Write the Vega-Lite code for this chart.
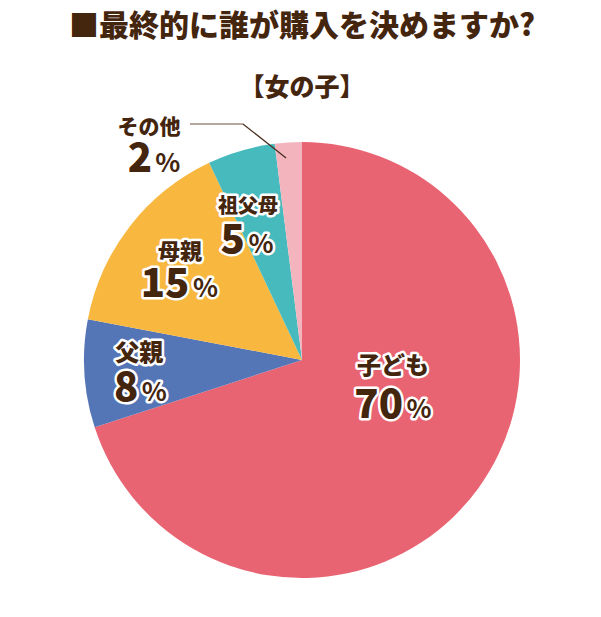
{
  "$schema": "https://vega.github.io/schema/vega-lite/v6.json",
  "width": 598,
  "height": 514,
  "autosize": "none",
  "padding": {"top": 103, "left": 3, "right": 0, "bottom": 0},
  "background": "white",
  "title": {
    "text": "■最終的に誰が購入を決めますか?",
    "subtitle": "【女の子】",
    "anchor": "middle",
    "font": "Noto Sans CJK JP",
    "fontSize": 30,
    "fontWeight": 900,
    "color": "#44250E",
    "subtitleFont": "Noto Sans CJK JP",
    "subtitleFontSize": 25,
    "subtitleFontWeight": 900,
    "subtitleColor": "#44250E",
    "subtitlePadding": 34,
    "offset": 2.5
  },
  "config": {"view": {"stroke": null}},
  "datasets": {
    "pie": [
      {"category": "子ども", "value": 70, "idx": 1},
      {"category": "父親", "value": 8, "idx": 2},
      {"category": "母親", "value": 15, "idx": 3},
      {"category": "祖父母", "value": 5, "idx": 4},
      {"category": "その他", "value": 2, "idx": 5}
    ],
    "leader": [
      {"lx": -0.514, "ly": 1.083, "step": 1, "seg": "h"},
      {"lx": -0.271, "ly": 1.083, "step": 2, "seg": "h"},
      {"lx": -0.271, "ly": 1.083, "step": 1, "seg": "d"},
      {"lx": -0.073, "ly": 0.927, "step": 2, "seg": "d"}
    ]
  },
  "layer": [
    {
      "data": {"name": "pie"},
      "mark": {"type": "arc", "outerRadius": 218},
      "encoding": {
        "theta": {"field": "value", "type": "quantitative", "stack": true},
        "order": {"field": "idx", "type": "quantitative"},
        "color": {
          "field": "category",
          "type": "nominal",
          "scale": {
            "domain": ["子ども", "父親", "母親", "祖父母", "その他"],
            "range": ["#E96473", "#5576B6", "#F8B840", "#47BABD", "#F3B4BE"]
          },
          "legend": null
        }
      }
    },
    {
      "data": {"name": "leader"},
      "transform": [{"filter": "datum.seg === 'h'"}],
      "mark": {"type": "line", "color": "#9C8A80", "strokeWidth": 1.5},
      "encoding": {
        "x": {"field": "lx", "type": "quantitative", "scale": {"domain": [-1.3716, 1.3716], "nice": false, "zero": false}, "axis": null},
        "y": {"field": "ly", "type": "quantitative", "scale": {"domain": [-1.1789, 1.1789], "nice": false, "zero": false}, "axis": null},
        "order": {"field": "step", "type": "quantitative"}
      }
    },
    {
      "data": {"name": "leader"},
      "transform": [{"filter": "datum.seg === 'd'"}],
      "mark": {"type": "line", "color": "#4A3020", "strokeWidth": 1.3},
      "encoding": {
        "x": {"field": "lx", "type": "quantitative", "axis": null},
        "y": {"field": "ly", "type": "quantitative", "axis": null},
        "order": {"field": "step", "type": "quantitative"}
      }
    },
    {
      "data": {"name": "pie"},
      "encoding": {
        "theta": {"field": "value", "type": "quantitative", "stack": true},
        "order": {"field": "idx", "type": "quantitative"}
      },
      "layer": [
        {"mark": {"type": "text", "radius": 102, "dx": 8.5, "dy": -53, "fontSize": 24, "font": "Noto Sans CJK JP", "fontWeight": 900, "fill": "white", "stroke": "white", "strokeWidth": 5, "strokeJoin": "round"},
         "encoding": {"text": {"condition": {"test": "datum.category === '子ども'", "field": "category"}, "value": ""}}},
        {"mark": {"type": "text", "radius": 102, "dx": 8.5, "dy": -53, "fontSize": 24, "font": "Noto Sans CJK JP", "fontWeight": 900, "fill": "#44250E"},
         "encoding": {"text": {"condition": {"test": "datum.category === '子ども'", "field": "category"}, "value": ""}}},
        {"mark": {"type": "text", "radius": 102, "dx": 18.5, "dy": -2, "align": "right", "baseline": "alphabetic", "fontSize": 40, "font": "Noto Sans CJK JP", "fontWeight": 900, "fill": "white", "stroke": "white", "strokeWidth": 5, "strokeJoin": "round"},
         "encoding": {"text": {"condition": {"test": "datum.category === '子ども'", "field": "value"}, "value": ""}}},
        {"mark": {"type": "text", "radius": 102, "dx": 18.5, "dy": -2, "align": "right", "baseline": "alphabetic", "fontSize": 40, "font": "Noto Sans CJK JP", "fontWeight": 900, "fill": "#44250E"},
         "encoding": {"text": {"condition": {"test": "datum.category === '子ども'", "field": "value"}, "value": ""}}},
        {"mark": {"type": "text", "radius": 102, "dx": 22, "dy": -2, "align": "left", "baseline": "alphabetic", "fontSize": 26, "font": "Noto Sans CJK JP", "fontWeight": "bold", "fill": "white", "stroke": "white", "strokeWidth": 5, "strokeJoin": "round"},
         "encoding": {"text": {"condition": {"test": "datum.category === '子ども'", "value": "%"}, "value": ""}}},
        {"mark": {"type": "text", "radius": 102, "dx": 22, "dy": -2, "align": "left", "baseline": "alphabetic", "fontSize": 26, "font": "Noto Sans CJK JP", "fontWeight": "bold", "fill": "#44250E"},
         "encoding": {"text": {"condition": {"test": "datum.category === '子ども'", "value": "%"}, "value": ""}}},

        {"mark": {"type": "text", "radius": 163, "dx": 0, "dy": -16, "fontSize": 24, "font": "Noto Sans CJK JP", "fontWeight": 900, "fill": "white", "stroke": "white", "strokeWidth": 5, "strokeJoin": "round"},
         "encoding": {"text": {"condition": {"test": "datum.category === '父親'", "field": "category"}, "value": ""}}},
        {"mark": {"type": "text", "radius": 163, "dx": 0, "dy": -16, "fontSize": 24, "font": "Noto Sans CJK JP", "fontWeight": 900, "fill": "#44250E"},
         "encoding": {"text": {"condition": {"test": "datum.category === '父親'", "field": "category"}, "value": ""}}},
        {"mark": {"type": "text", "radius": 163, "dx": -1, "dy": 31, "align": "right", "baseline": "alphabetic", "fontSize": 40, "font": "Noto Sans CJK JP", "fontWeight": 900, "fill": "white", "stroke": "white", "strokeWidth": 5, "strokeJoin": "round"},
         "encoding": {"text": {"condition": {"test": "datum.category === '父親'", "field": "value"}, "value": ""}}},
        {"mark": {"type": "text", "radius": 163, "dx": -1, "dy": 31, "align": "right", "baseline": "alphabetic", "fontSize": 40, "font": "Noto Sans CJK JP", "fontWeight": 900, "fill": "#44250E"},
         "encoding": {"text": {"condition": {"test": "datum.category === '父親'", "field": "value"}, "value": ""}}},
        {"mark": {"type": "text", "radius": 163, "dx": 2.5, "dy": 31, "align": "left", "baseline": "alphabetic", "fontSize": 26, "font": "Noto Sans CJK JP", "fontWeight": "bold", "fill": "white", "stroke": "white", "strokeWidth": 5, "strokeJoin": "round"},
         "encoding": {"text": {"condition": {"test": "datum.category === '父親'", "value": "%"}, "value": ""}}},
        {"mark": {"type": "text", "radius": 163, "dx": 2.5, "dy": 31, "align": "left", "baseline": "alphabetic", "fontSize": 26, "font": "Noto Sans CJK JP", "fontWeight": "bold", "fill": "#44250E"},
         "encoding": {"text": {"condition": {"test": "datum.category === '父親'", "value": "%"}, "value": ""}}},

        {"mark": {"type": "text", "radius": 145, "dx": -7.4, "dy": -19, "fontSize": 22, "font": "Noto Sans CJK JP", "fontWeight": 900, "fill": "white", "stroke": "white", "strokeWidth": 5, "strokeJoin": "round"},
         "encoding": {"text": {"condition": {"test": "datum.category === '母親'", "field": "category"}, "value": ""}}},
        {"mark": {"type": "text", "radius": 145, "dx": -7.4, "dy": -19, "fontSize": 22, "font": "Noto Sans CJK JP", "fontWeight": 900, "fill": "#44250E"},
         "encoding": {"text": {"condition": {"test": "datum.category === '母親'", "field": "category"}, "value": ""}}},
        {"mark": {"type": "text", "radius": 145, "dx": 2, "dy": 26, "align": "right", "baseline": "alphabetic", "fontSize": 40, "font": "Noto Sans CJK JP", "fontWeight": 900, "fill": "white", "stroke": "white", "strokeWidth": 5, "strokeJoin": "round"},
         "encoding": {"text": {"condition": {"test": "datum.category === '母親'", "field": "value"}, "value": ""}}},
        {"mark": {"type": "text", "radius": 145, "dx": 2, "dy": 26, "align": "right", "baseline": "alphabetic", "fontSize": 40, "font": "Noto Sans CJK JP", "fontWeight": 900, "fill": "#44250E"},
         "encoding": {"text": {"condition": {"test": "datum.category === '母親'", "field": "value"}, "value": ""}}},
        {"mark": {"type": "text", "radius": 145, "dx": 5.5, "dy": 26, "align": "left", "baseline": "alphabetic", "fontSize": 26, "font": "Noto Sans CJK JP", "fontWeight": "bold", "fill": "white", "stroke": "white", "strokeWidth": 5, "strokeJoin": "round"},
         "encoding": {"text": {"condition": {"test": "datum.category === '母親'", "value": "%"}, "value": ""}}},
        {"mark": {"type": "text", "radius": 145, "dx": 5.5, "dy": 26, "align": "left", "baseline": "alphabetic", "fontSize": 26, "font": "Noto Sans CJK JP", "fontWeight": "bold", "fill": "#44250E"},
         "encoding": {"text": {"condition": {"test": "datum.category === '母親'", "value": "%"}, "value": ""}}},

        {"mark": {"type": "text", "radius": 142, "dx": -14.4, "dy": -16.7, "fontSize": 20, "font": "Noto Sans CJK JP", "fontWeight": 900, "fill": "white", "stroke": "white", "strokeWidth": 5, "strokeJoin": "round"},
         "encoding": {"text": {"condition": {"test": "datum.category === '祖父母'", "field": "category"}, "value": ""}}},
        {"mark": {"type": "text", "radius": 142, "dx": -14.4, "dy": -16.7, "fontSize": 20, "font": "Noto Sans CJK JP", "fontWeight": 900, "fill": "#44250E"},
         "encoding": {"text": {"condition": {"test": "datum.category === '祖父母'", "field": "category"}, "value": ""}}},
        {"mark": {"type": "text", "radius": 142, "dx": -17.5, "dy": 29.3, "align": "right", "baseline": "alphabetic", "fontSize": 40, "font": "Noto Sans CJK JP", "fontWeight": 900, "fill": "white", "stroke": "white", "strokeWidth": 5, "strokeJoin": "round"},
         "encoding": {"text": {"condition": {"test": "datum.category === '祖父母'", "field": "value"}, "value": ""}}},
        {"mark": {"type": "text", "radius": 142, "dx": -17.5, "dy": 29.3, "align": "right", "baseline": "alphabetic", "fontSize": 40, "font": "Noto Sans CJK JP", "fontWeight": 900, "fill": "#44250E"},
         "encoding": {"text": {"condition": {"test": "datum.category === '祖父母'", "field": "value"}, "value": ""}}},
        {"mark": {"type": "text", "radius": 142, "dx": -14, "dy": 29.3, "align": "left", "baseline": "alphabetic", "fontSize": 26, "font": "Noto Sans CJK JP", "fontWeight": "bold", "fill": "white", "stroke": "white", "strokeWidth": 5, "strokeJoin": "round"},
         "encoding": {"text": {"condition": {"test": "datum.category === '祖父母'", "value": "%"}, "value": ""}}},
        {"mark": {"type": "text", "radius": 142, "dx": -14, "dy": 29.3, "align": "left", "baseline": "alphabetic", "fontSize": 26, "font": "Noto Sans CJK JP", "fontWeight": "bold", "fill": "#44250E"},
         "encoding": {"text": {"condition": {"test": "datum.category === '祖父母'", "value": "%"}, "value": ""}}},

        {"mark": {"type": "text", "radius": 259, "dx": -136.7, "dy": 26.5, "fontSize": 21, "font": "Noto Sans CJK JP", "fontWeight": 900, "fill": "#44250E"},
         "encoding": {"text": {"condition": {"test": "datum.category === 'その他'", "field": "category"}, "value": ""}}},
        {"mark": {"type": "text", "radius": 259, "dx": -133.7, "dy": 70.5, "align": "right", "baseline": "alphabetic", "fontSize": 40, "font": "Noto Sans CJK JP", "fontWeight": 900, "fill": "#44250E"},
         "encoding": {"text": {"condition": {"test": "datum.category === 'その他'", "field": "value"}, "value": ""}}},
        {"mark": {"type": "text", "radius": 259, "dx": -130.5, "dy": 70.5, "align": "left", "baseline": "alphabetic", "fontSize": 26, "font": "Noto Sans CJK JP", "fontWeight": "bold", "fill": "#44250E"},
         "encoding": {"text": {"condition": {"test": "datum.category === 'その他'", "value": "%"}, "value": ""}}}
      ]
    }
  ]
}
